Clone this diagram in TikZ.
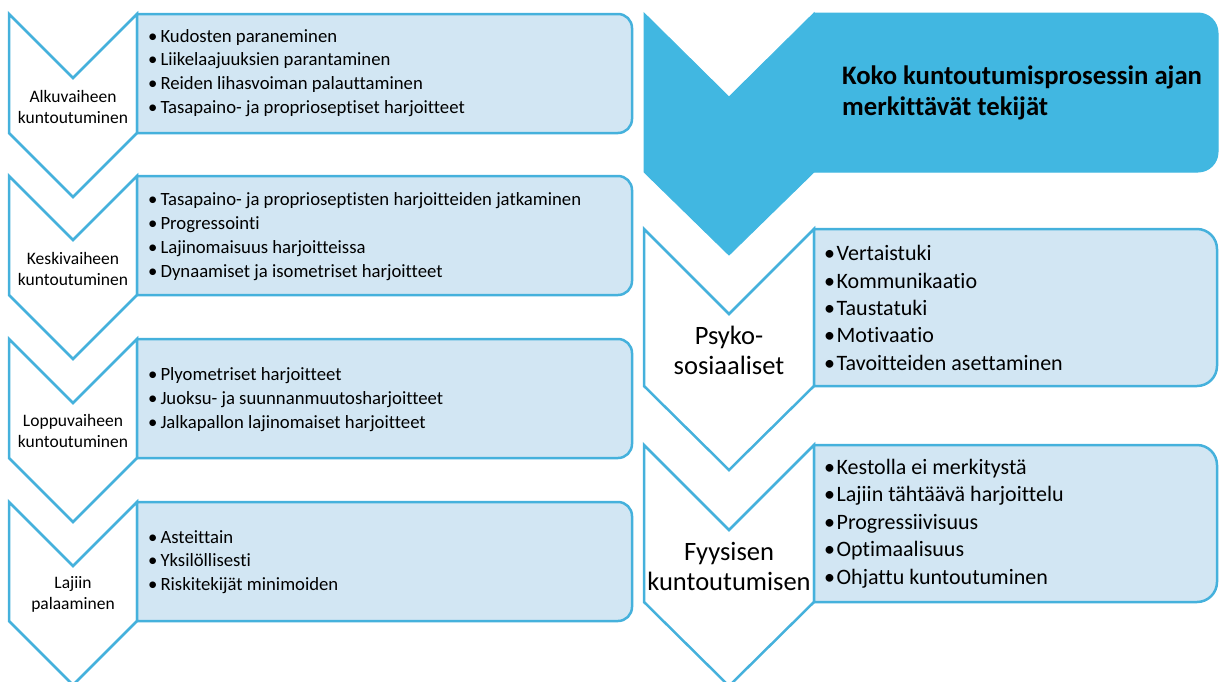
\documentclass[tikz,border=0pt]{standalone}
\usepackage{fontspec}
\setmainfont{Carlito}[Ligatures={NoCommon,NoRare,NoContextual}]
\definecolor{lineblue}{HTML}{45B1DC}
\definecolor{fillblue}{HTML}{41B7E1}
\definecolor{lightbox}{HTML}{D2E6F3}
\begin{document}
\begin{tikzpicture}[x=1pt,y=-1pt,
  chevl/.style={draw=lineblue,line width=2.5pt,fill=white,line join=miter},
  boxl/.style={draw=lineblue,line width=2.5pt,fill=lightbox,line join=miter},
  bigfill/.style={draw=fillblue,line width=1pt,fill=fillblue,line join=miter},
  lefttxt/.style={anchor=west,inner sep=0pt,align=left,font=\fontsize{18.7}{23.8}\selectfont},
  leftlab/.style={align=center,inner sep=0pt,font=\fontsize{17.5}{21}\selectfont},
  righttxt/.style={anchor=west,inner sep=0pt,align=left,font=\fontsize{22}{27.4}\selectfont},
  rightlab/.style={align=center,inner sep=0pt,font=\fontsize{26.5}{30}\selectfont},
  titletxt/.style={anchor=west,inner sep=0pt,align=left,font=\bfseries\fontsize{26.7}{31}\selectfont}]
\useasboundingbox (0,0) rectangle (1219,681);
\clip (0,0) rectangle (1219,681);
\newcommand\lbul{\textbullet\hspace{3pt}}
\newcommand\rbul{\textbullet\hspace{1.5pt}}
% ---------- left column ----------
\foreach \t in {14,176,339,502}{
  \draw[chevl] (9,\t) -- (73,\t+64) -- (137,\t) -- (137,\t+119) -- (73,\t+183) -- (9,\t+119) -- cycle;
  \draw[boxl] (137,\t) -- (618,\t) arc(-90:0:14) -- (632,\t+105) arc(0:90:14) -- (137,\t+119) -- cycle;
}
\node[leftlab] (lab1) at (73,106.5) {Alkuvaiheen\\kuntoutuminen};
\node[lefttxt] (txt1) at (148,73) {\lbul Kudosten paraneminen\\\lbul Liikelaajuuksien parantaminen\\\lbul Reiden lihasvoiman palauttaminen\\\lbul Tasapaino- ja proprioseptiset harjoitteet};
\node[leftlab] (lab2) at (73,268.5) {Keskivaiheen\\kuntoutuminen};
\node[lefttxt] (txt2) at (148,236.5) {\lbul Tasapaino- ja proprioseptisten harjoitteiden jatkaminen\\\lbul Progressointi\\\lbul Lajinomaisuus harjoitteissa\\\lbul Dynaamiset ja isometriset harjoitteet};
\node[leftlab] (lab3) at (73,430.5) {Loppuvaiheen\\kuntoutuminen};
\node[lefttxt] (txt3) at (148,399.5) {\lbul Plyometriset harjoitteet\\\lbul Juoksu- ja suunnanmuutosharjoitteet\\\lbul Jalkapallon lajinomaiset harjoitteet};
\node[leftlab] (lab4) at (73,594) {Lajiin\\palaaminen};
\node[lefttxt] (txt4) at (148,562) {\lbul Asteittain\\\lbul Yksilöllisesti\\\lbul Riskitekijät minimoiden};
% ---------- right column ----------
\draw[bigfill] (644,13) -- (729,97) -- (814,13) -- (814,172) -- (729,255) -- (644,172) -- cycle;
\draw[bigfill] (814,13) -- (1198,13) arc(-90:0:20) -- (1218,152) arc(0:90:20) -- (814,172) -- cycle;
\node[titletxt] (title) at (842,92.5) {Koko kuntoutumisprosessin ajan\\merkittävät tekijät};
\foreach \t in {229,445}{
  \draw[chevl] (644,\t) -- (729,\t+85) -- (814,\t) -- (814,\t+157) -- (729,\t+241) -- (644,\t+157) -- cycle;
  \draw[boxl] (814,\t) -- (1197,\t) arc(-90:0:20) -- (1217,\t+137) arc(0:90:20) -- (814,\t+157) -- cycle;
}
\node[rightlab] (rlab1) at (729,350) {Psyko-\\sosiaaliset};
\node[righttxt] (rtxt1) at (824,308) {\rbul Vertaistuki\\\rbul Kommunikaatio\\\rbul Taustatuki\\\rbul Motivaatio\\\rbul Tavoitteiden asettaminen};
\node[rightlab] (rlab2) at (729,566) {Fyysisen\\kuntoutumisen};
\node[righttxt] (rtxt2) at (824,523.5) {\rbul Kestolla ei merkitystä\\\rbul Lajiin tähtäävä harjoittelu\\\rbul Progressiivisuus\\\rbul Optimaalisuus\\\rbul Ohjattu kuntoutuminen};
\end{tikzpicture}
\end{document}
